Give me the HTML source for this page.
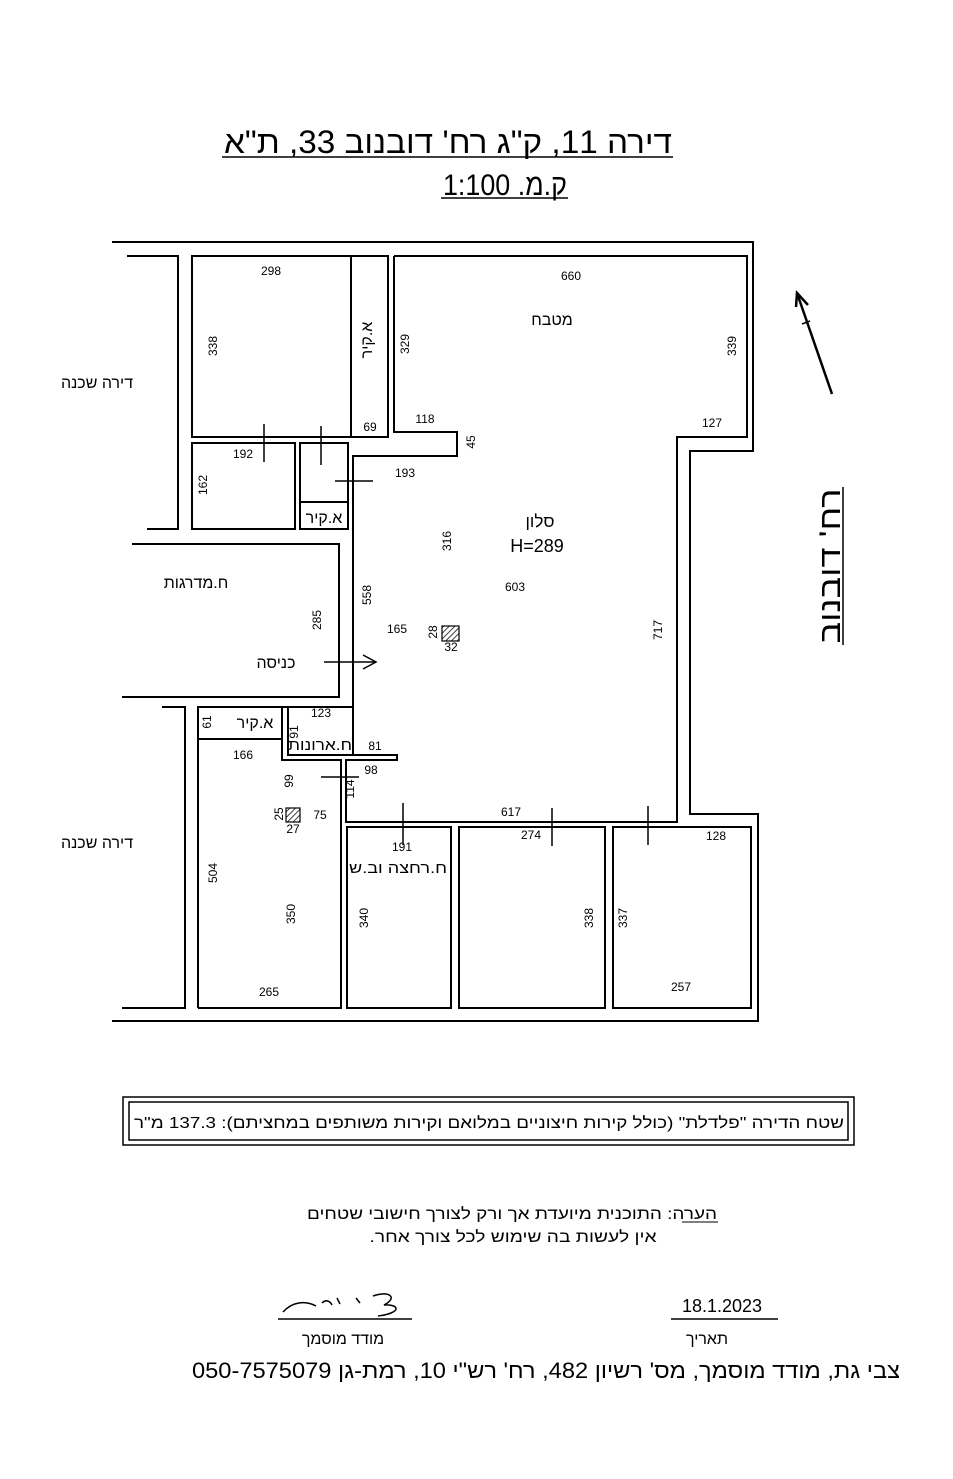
<!DOCTYPE html>
<html><head><meta charset="utf-8"><style>
html,body{margin:0;padding:0;background:#fff}
svg{display:block}
text{font-family:"Liberation Sans Narrow","Liberation Sans","DejaVu Sans",sans-serif;fill:#000}
.n{font-size:12px;text-anchor:middle}
.h{font-size:16px;text-anchor:middle;direction:rtl}
</style></head><body>
<svg width="953" height="1479" viewBox="0 0 953 1479" xmlns="http://www.w3.org/2000/svg">
<g fill="none" stroke="#000" stroke-width="2">
<line x1="222" y1="157" x2="673" y2="157" stroke-width="1.5"/>
<line x1="441" y1="198" x2="568" y2="198" stroke-width="1.5"/>
<polyline points="112,242 753,242 753,451 690,451 690,814 758,814 758,1021 112,1021"/>
<polyline points="394,256 747,256 747,437 677,437 677,822 346,822 346,760 397,760 397,755 353,755 353,456 457,456 457,432 394,432 394,256"/>
<rect x="192" y="256" width="159" height="181"/>
<rect x="351" y="256" width="37" height="181"/>
<rect x="192" y="443" width="103" height="86"/>
<rect x="300" y="443" width="48" height="86"/>
<line x1="300" y1="502" x2="348" y2="502"/>
<polyline points="127,256 178,256 178,529 147,529"/>
<polyline points="132,544 339,544 339,697 122,697"/>
<polyline points="162,707 185,707 185,1008 122,1008"/>
<polyline points="198,1008 198,707 353,707"/>
<rect x="198" y="707" width="84" height="32"/>
<polyline points="282,707 282,760 341,760 341,1008 198,1008"/>
<polyline points="288,707 288,755 353,755"/>
<rect x="347" y="827" width="104" height="181"/>
<rect x="459" y="827" width="146" height="181"/>
<rect x="613" y="827" width="138" height="181"/>
</g>
<g stroke="#000" stroke-width="1.5" fill="none">
<line x1="264" y1="424" x2="264" y2="462"/>
<line x1="321" y1="426" x2="321" y2="465"/>
<line x1="335" y1="481" x2="373" y2="481"/>
<line x1="321" y1="777" x2="359" y2="777"/>
<line x1="403" y1="803" x2="403" y2="845"/>
<line x1="552" y1="808" x2="552" y2="846"/>
<line x1="648" y1="806" x2="648" y2="845"/>
<line x1="324" y1="662" x2="376" y2="662"/>
<polyline points="363,655 376,662 363,669"/>
<line x1="797" y1="293" x2="832" y2="394" stroke-width="2.5"/>
<polyline points="796,307 797,293 808,305" stroke-width="2.5"/>
<line x1="802" y1="324" x2="810" y2="321"/>
<line x1="843" y1="487" x2="843" y2="645"/>
</g>
<defs><pattern id="hp" width="4" height="4" patternUnits="userSpaceOnUse" patternTransform="rotate(45)"><line x1="0" y1="0" x2="0" y2="4" stroke="#000" stroke-width="1.5"/></pattern></defs>
<rect x="442" y="626" width="17" height="15" fill="url(#hp)" stroke="#000" stroke-width="1.2"/>
<rect x="286" y="808" width="14" height="14" fill="url(#hp)" stroke="#000" stroke-width="1.2"/>

<text x="448" y="153" style="font-size:32px;text-anchor:middle;direction:rtl" textLength="448" lengthAdjust="spacingAndGlyphs">דירה 11, ק"ג רח' דובנוב 33, ת"א</text>
<text x="505" y="195" style="font-size:30px;text-anchor:middle;direction:rtl" textLength="124" lengthAdjust="spacingAndGlyphs">ק.מ. 1:100</text>
<text transform="translate(840,566) rotate(-90)" style="font-size:30px;text-anchor:middle;direction:rtl" textLength="155" lengthAdjust="spacingAndGlyphs">רח' דובנוב</text>

<text class="n" x="271" y="275">298</text>
<text class="n" x="571" y="280">660</text>
<text class="n" x="370" y="431">69</text>
<text class="n" x="425" y="423">118</text>
<text class="n" x="712" y="427">127</text>
<text class="n" x="243" y="458">192</text>
<text class="n" x="405" y="477">193</text>
<text class="n" x="515" y="591">603</text>
<text class="n" x="397" y="633">165</text>
<text class="n" x="451" y="651">32</text>
<text class="n" x="321" y="717">123</text>
<text class="n" x="375" y="750">81</text>
<text class="n" x="243" y="759">166</text>
<text class="n" x="371" y="774">98</text>
<text class="n" x="320" y="819">75</text>
<text class="n" x="293" y="833">27</text>
<text class="n" x="511" y="816">617</text>
<text class="n" x="402" y="851">191</text>
<text class="n" x="531" y="839">274</text>
<text class="n" x="716" y="840">128</text>
<text class="n" x="269" y="996">265</text>
<text class="n" x="681" y="991">257</text>
<g class="n">
<text class="n" transform="translate(217,346) rotate(-90)">338</text>
<text class="n" transform="translate(409,344) rotate(-90)">329</text>
<text class="n" transform="translate(736,346) rotate(-90)">339</text>
<text class="n" transform="translate(207,485) rotate(-90)">162</text>
<text class="n" transform="translate(475,442) rotate(-90)">45</text>
<text class="n" transform="translate(451,541) rotate(-90)">316</text>
<text class="n" transform="translate(371,595) rotate(-90)">558</text>
<text class="n" transform="translate(321,620) rotate(-90)">285</text>
<text class="n" transform="translate(662,630) rotate(-90)">717</text>
<text class="n" transform="translate(437,632) rotate(-90)">28</text>
<text class="n" transform="translate(211,722) rotate(-90)">61</text>
<text class="n" transform="translate(298,732) rotate(-90)">91</text>
<text class="n" transform="translate(293,781) rotate(-90)">99</text>
<text class="n" transform="translate(354,789) rotate(-90)">114</text>
<text class="n" transform="translate(283,814) rotate(-90)">25</text>
<text class="n" transform="translate(217,873) rotate(-90)">504</text>
<text class="n" transform="translate(295,914) rotate(-90)">350</text>
<text class="n" transform="translate(368,918) rotate(-90)">340</text>
<text class="n" transform="translate(593,918) rotate(-90)">338</text>
<text class="n" transform="translate(627,918) rotate(-90)">337</text>
</g>
<text class="h" x="97" y="388">דירה שכנה</text>
<text class="h" x="97" y="848">דירה שכנה</text>
<text class="h" transform="translate(372,340) rotate(-90)">א.קיר</text>
<text class="h" x="552" y="325">מטבח</text>
<text class="h" x="540" y="527" style="font-size:17px">סלון</text>
<text x="537" y="552" style="font-size:18px;text-anchor:middle">H=289</text>
<text class="h" x="324" y="523">א.קיר</text>
<text class="h" x="196" y="588">ח.מדרגות</text>
<text class="h" x="276" y="668">כניסה</text>
<text class="h" x="255" y="728">א.קיר</text>
<text class="h" x="320" y="750" style="font-size:15px" textLength="64" lengthAdjust="spacingAndGlyphs">ח.ארונות</text>
<text class="h" x="398" y="873" style="font-size:15px" textLength="98" lengthAdjust="spacingAndGlyphs">ח.רחצה וב.ש</text>

<rect x="123" y="1097" width="731" height="48" fill="none" stroke="#000" stroke-width="1.5"/>
<rect x="129" y="1102" width="719" height="38" fill="none" stroke="#000" stroke-width="1.5"/>
<text x="489" y="1128" style="font-size:16px;text-anchor:middle;direction:rtl" textLength="710" lengthAdjust="spacingAndGlyphs">שטח הדירה "פלדלת" (כולל קירות חיצוניים במלואם וקירות משותפים במחציתם): 137.3 מ"ר</text>

<text x="512" y="1219" style="font-size:16px;text-anchor:middle;direction:rtl" textLength="410" lengthAdjust="spacingAndGlyphs">הערה: התוכנית מיועדת אך ורק לצורך חישובי שטחים</text>
<line x1="682" y1="1222" x2="718" y2="1222" stroke="#000" stroke-width="1"/>
<text x="513" y="1242" style="font-size:16px;text-anchor:middle;direction:rtl" textLength="287" lengthAdjust="spacingAndGlyphs">אין לעשות בה שימוש לכל צורך אחר.</text>

<path d="M283,1312 C292,1302 305,1300 316,1306 M322,1303 C326,1299 330,1301 332,1305 M337,1298 L340,1304 M356,1298 L360,1303 M373,1296 C390,1290 398,1298 384,1305 C400,1304 402,1313 378,1316" fill="none" stroke="#000" stroke-width="1.5"/>
<line x1="278" y1="1319" x2="412" y2="1319" stroke="#000" stroke-width="1.5"/>
<text class="h" x="343" y="1344">מודד מוסמך</text>
<text x="722" y="1312" style="font-size:18px;text-anchor:middle">18.1.2023</text>
<line x1="671" y1="1319" x2="778" y2="1319" stroke="#000" stroke-width="1.5"/>
<text class="h" x="707" y="1344">תאריך</text>
<text x="546" y="1378" style="font-size:22px;text-anchor:middle;direction:rtl" textLength="708" lengthAdjust="spacingAndGlyphs">צבי גת, מודד מוסמך, מס' רשיון 482, רח' רש"י 10, רמת-גן 050-7575079</text>
</svg>
</body></html>
